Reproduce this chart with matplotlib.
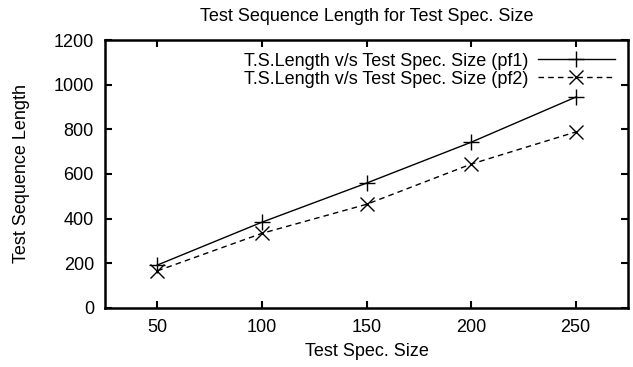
import matplotlib
matplotlib.use("Agg")
import matplotlib.pyplot as plt

# test spec sizes and sequence lengths
spec_size = [50, 100, 150, 200, 250]
len_pf1 = [192, 384, 559, 742, 944]
len_pf2 = [166, 334, 464, 644, 788]

plt.rcParams['font.family'] = ['Liberation Sans', 'DejaVu Sans']
plt.rcParams['font.size'] = 13

fig = plt.figure(figsize=(6.33, 3.67), dpi=100)
ax = fig.add_axes([0.166, 0.161, 0.826, 0.730])

ax.plot(spec_size, len_pf1, color='black', lw=1, marker='+', ms=12, mew=1,
        label='T.S.Length v/s Test Spec. Size (pf1)')
ax.plot(spec_size, len_pf2, color='black', lw=1, ls=(0, (4, 3)), marker='x', ms=10, mew=1,
        label='T.S.Length v/s Test Spec. Size (pf2)')

ax.set_xlim(25, 275)
ax.set_ylim(0, 1200)
ax.set_xticks(spec_size)
ax.set_yticks(range(0, 1201, 200))
ax.tick_params(direction='in', length=5, width=1.5, top=True, right=True, pad=8)
for s in ax.spines.values():
    s.set_linewidth(1.8)

ax.set_title('Test Sequence Length for Test Spec. Size', fontsize=13, pad=14)
ax.set_xlabel('Test Spec. Size', labelpad=5)
ax.set_ylabel('Test Sequence Length', labelpad=17)

ax.legend(loc='upper right', frameon=False, markerfirst=False, handlelength=4.3,
          borderaxespad=0.6, labelspacing=0.05, fontsize=13, handletextpad=0.5,
          borderpad=0.1)

fig.savefig('out.png', dpi=100)
